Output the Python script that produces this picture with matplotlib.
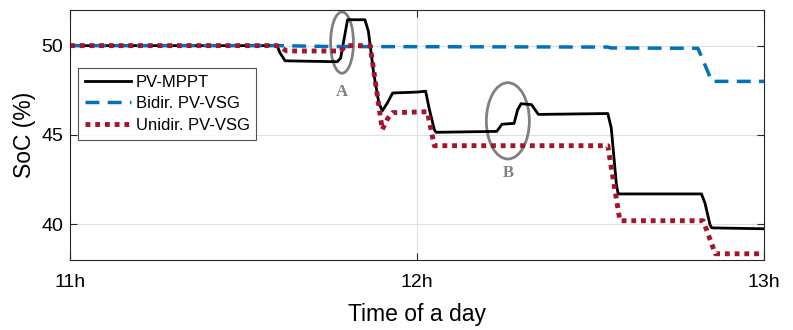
import numpy as np
import matplotlib
matplotlib.use('Agg')
import matplotlib.pyplot as plt
from matplotlib.patches import Ellipse

plt.rcParams['font.family'] = ['Liberation Sans', 'DejaVu Sans']

# PV-MPPT (hours, SoC %)
t_mppt = [11.0, 11.597, 11.605, 11.62, 11.77, 11.78, 11.80, 11.85, 11.86, 11.875,
          11.89, 11.90, 11.915, 11.93, 12.0, 12.025, 12.035, 12.05, 12.055, 12.23,
          12.245, 12.28, 12.29, 12.30, 12.33, 12.35, 12.55, 12.56, 12.575, 12.58,
          12.82, 12.83, 12.845, 12.85, 13.0]
soc_mppt = [50.0, 50.0, 49.6, 49.15, 49.1, 49.3, 51.45, 51.45, 50.8, 48.5,
            46.8, 46.35, 46.8, 47.35, 47.4, 47.45, 46.5, 45.3, 45.15, 45.2,
            45.6, 45.65, 46.4, 46.75, 46.7, 46.15, 46.2, 45.4, 42.2, 41.7,
            41.7, 41.2, 39.95, 39.8, 39.75]

# Bidir. PV-VSG
t_bidir = [11.0, 11.6, 11.75, 12.55, 12.56, 12.81, 12.85, 13.0]
soc_bidir = [50.0, 50.0, 49.95, 49.92, 49.87, 49.85, 48.0, 48.0]

# Unidir. PV-VSG
t_unidir = [11.0, 11.597, 11.625, 11.78, 11.795, 11.865, 11.90, 11.915, 11.93,
            12.03, 12.05, 12.55, 12.585, 12.825, 12.86, 13.0]
soc_unidir = [50.0, 50.0, 49.7, 49.7, 50.0, 50.0, 45.3, 45.9, 46.25,
              46.3, 44.4, 44.4, 40.2, 40.2, 38.35, 38.35]

fig = plt.figure(figsize=(7.93, 3.30), dpi=100)
ax = fig.add_axes([0.0883, 0.212, 0.875, 0.758])

ax.plot(t_mppt, soc_mppt, color='black', lw=2, label='PV-MPPT')
ax.plot(t_bidir, soc_bidir, color='#0072BD', lw=2.5, linestyle=(0, (4, 2.4)),
        label='Bidir. PV-VSG')
ax.plot(t_unidir, soc_unidir, color='#A2142F', lw=3.5, linestyle=(0, (1, 1)),
        dash_capstyle='butt', label='Unidir. PV-VSG')

# annotations
ax.add_patch(Ellipse((11.784, 50.17), 0.066, 3.43, fill=False, ec='gray', lw=2))
ax.add_patch(Ellipse((12.262, 45.79), 0.124, 4.27, fill=False, ec='gray', lw=2))
ax.text(11.784, 47.4, 'A', color='gray', fontsize=12, fontweight='bold',
        family='Liberation Serif', ha='center', va='center')
ax.text(12.262, 42.85, 'B', color='gray', fontsize=12, fontweight='bold',
        family='Liberation Serif', ha='center', va='center')

ax.set_xlim(11, 13)
ax.set_ylim(38, 52)
ax.set_xticks([11, 12, 13])
ax.set_xticklabels(['11h', '12h', '13h'])
ax.set_yticks([40, 45, 50])
ax.tick_params(direction='in', top=True, right=True, labelsize=14,
               color='#262626', length=5)
ax.tick_params(axis='x', pad=10)
ax.tick_params(axis='y', pad=5)
ax.grid(True, color='#e0e0e0', lw=0.8)
ax.set_axisbelow(True)
for s in ax.spines.values():
    s.set_color('#262626')
    s.set_linewidth(0.8)

ax.set_xlabel('Time of a day', fontsize=16.5, labelpad=8.5)
ax.set_ylabel('SoC (%)', fontsize=16.5, labelpad=4)

leg = ax.legend(loc='upper left', bbox_to_anchor=(0.0115, 0.768), fontsize=12,
                handlelength=2.8, frameon=True, fancybox=False, edgecolor='#262626',
                borderpad=0.4, labelspacing=0.4, handletextpad=0.25, borderaxespad=0)
leg.get_frame().set_linewidth(0.8)

plt.savefig('out.png', dpi=100)
